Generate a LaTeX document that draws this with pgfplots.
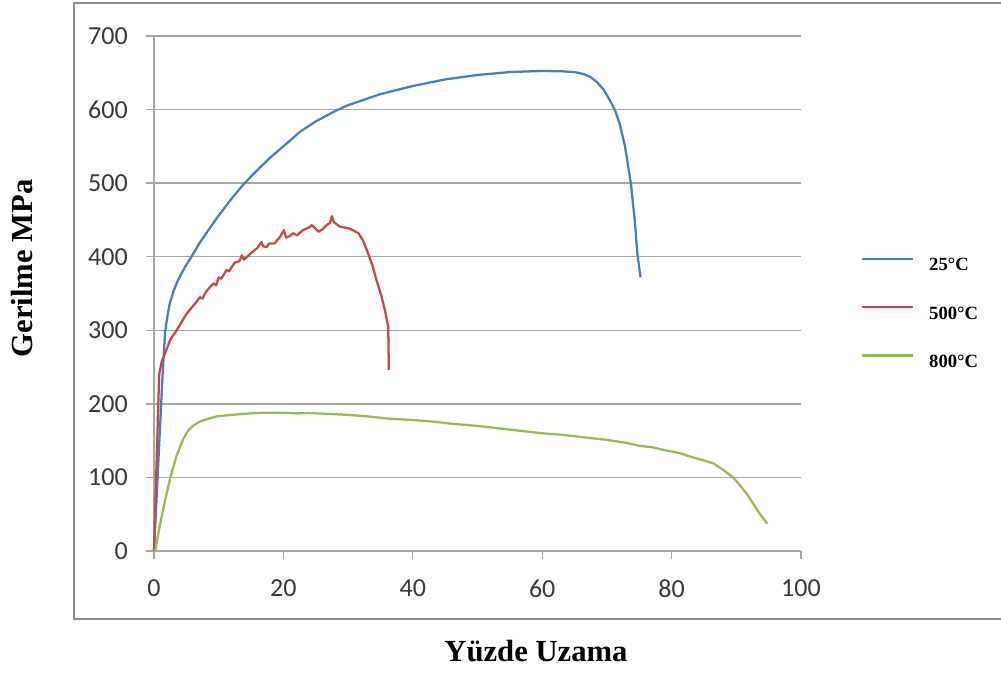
\documentclass[border=0pt]{standalone}
\usepackage{fontspec}
\setmainfont{Liberation Serif}
\newfontfamily\carlito{Carlito}
\usepackage{pgfplots}
\pgfplotsset{compat=1.18}
\definecolor{c25}{HTML}{4A7EBB}
\definecolor{c500}{HTML}{BE4B48}
\definecolor{c800}{HTML}{98B954}
\definecolor{gridgray}{HTML}{A6A6A6}
\definecolor{framegray}{HTML}{8C8C8C}
\begin{document}
\begin{tikzpicture}
\path[use as bounding box] (0pt,0pt) rectangle (750.75pt,504.75pt);
\draw[framegray, line width=1pt] (55.5pt,40.5pt) rectangle (800pt,502.5pt);
\begin{axis}[
  at={(115.5pt,91.5pt)}, anchor=south west,
  scale only axis, width=485.25pt, height=386.25pt,
  xmin=0, xmax=100, ymin=0, ymax=700,
  xtick={0,20,...,100}, ytick={0,100,...,700},
  axis x line=bottom, axis y line=left,
  axis line style={-, draw=gridgray, line width=1pt},
  ymajorgrids, grid style={gridgray, line width=1pt},
  tick align=outside, major tick length=6pt,
  tick style={gridgray, line width=1pt},
  /pgf/number format/assume math mode=true,
  ticklabel style={font=\carlito\fontsize{19.5}{21}\selectfont, text=black!78, inner sep=0pt},
  xticklabel style={anchor=north, yshift=-15.5pt},
  yticklabel style={anchor=east, xshift=-13.5pt},
  xlabel={Yüzde Uzama}, ylabel={Gerilme MPa},
  label style={font=\bfseries\fontsize{23}{26}\selectfont},
  xlabel style={at={(axis description cs:0.5904,-0.2149)}, anchor=base},
  ylabel style={at={(axis description cs:-0.204,0.5486)}, anchor=center},
  legend style={at={(axis description cs:1.0927,0.5704)}, anchor=north west,
    draw=none, fill=none, inner sep=0pt, row sep=26.5pt, column sep=11pt,
    font=\bfseries\fontsize{14}{15}\selectfont,
    nodes={inner sep=0pt, text height=9pt, text depth=0pt}},
  legend cell align=left,
  legend image code/.code={\path (0pt,0pt); \draw[#1] (0pt,4.5pt) -- (38.25pt,4.5pt);},
  every axis plot/.append style={line width=1.7pt, line join=round},
  clip=false,
]
\addplot[c25] coordinates {
(0,0) (0.5,90) (1.0,180) (1.3,235) (1.7,296) (2.0,315) (2.4,335) (3.0,353) (3.6,366) (4.3,378) (5,389) (5.8,400)
(7,418) (8,431) (10,456) (12,479) (14,500) (16,518) (18,535) (20,550) (22.6,570) (25,584) (28,598)
(30,606) (35,621) (40,632) (45,641) (50,647) (55,651) (60,652.5) (63,652) (65,651) (66.5,648)
(67.5,644) (68.5,637) (69.5,627) (70.5,612) (71.3,598) (72,580) (72.8,550) (73.7,500) (74.3,450)
(74.7,405) (75.2,372)
};
\addlegendentry{25°C}
\addplot[c500] coordinates {
(0,0) (0.4,120) (0.8,240) (1.2,258) (2,275) (2.5,287) (3.5,300) (5,322) (6.5,338) (7.1,345) (7.5,343)
(8,352) (9.2,364) (9.6,361) (10,372) (10.4,370) (11.2,382) (11.6,380) (12,386) (12.5,392) (13.2,394)
(13.6,402) (13.9,396) (15,405) (16,412) (16.6,420) (16.9,414) (17.4,413) (17.8,418) (18.6,418)
(19.4,426) (20.1,436) (20.4,426) (21,428) (21.5,432) (22.1,429) (23,436) (24,440) (24.4,443)
(25.4,434) (26,437) (26.7,443) (27.2,446) (27.5,455) (27.8,447) (28.7,441) (30.3,438) (31.6,432)
(32.3,422) (32.9,409) (33.7,390) (34.4,368) (35.1,348) (35.7,327) (36.2,305) (36.3,246)
};
\addlegendentry{500°C}
\addplot[c800] coordinates {
(0.2,0) (0.8,30) (1.5,60) (2.5,99) (3.5,130) (4.5,152) (5.3,164) (6,170) (7.1,176) (8.5,180)
(9.7,183) (12,185) (14.8,187) (17,188) (20,188) (22,187) (24,187.5) (27.7,186) (30,185) (33,183)
(36,180) (38,179) (40,178) (43,176) (46,173) (50,170) (53,167) (56,164) (60,160) (63,158) (66,155)
(70,151) (73,147) (75,143) (77,141) (79,137) (81.3,133) (83,128) (85,123) (86.5,119) (88,110)
(89.5,100) (90.5,90) (91.6,78) (92.5,66) (93.5,52) (94.8,37)
};
\addlegendentry{800°C}
\end{axis}
\end{tikzpicture}
\end{document}
